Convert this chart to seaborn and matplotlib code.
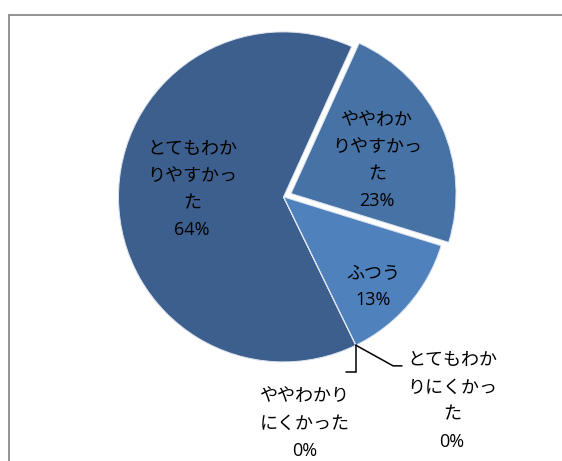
import numpy as np
import matplotlib
matplotlib.use("Agg")
import matplotlib.pyplot as plt
from matplotlib.lines import Line2D
import seaborn as sns

# Survey answers, in drawing order (clockwise)
categories = ["とてもわかりやすかった", "ややわかりやすかった", "ふつう",
              "ややわかりにくかった", "とてもわかりにくかった"]
percent = [64, 23, 13, 0, 0]
# Label text as wrapped inside the chart
label_lines = [["とてもわか", "りやすかっ", "た"],
               ["ややわか", "りやすかっ", "た"],
               ["ふつう"],
               ["ややわかり", "にくかった"],
               ["とてもわか", "りにくかっ", "た"]]

sns.set_theme(style="white")
plt.rcParams["font.family"] = ["Open Sans", "Noto Sans CJK JP", "DejaVu Sans"]

W, H, DPI = 562, 461, 100
fig = plt.figure(figsize=(W / DPI, H / DPI), dpi=DPI)
fig.patch.set_facecolor("white")

# Axes spanning the figure; 1 data unit = pie radius in pixels
R_PX = 165.0
CX, CY = 283.5, 196.9          # pie centre in pixels (from top-left)
ax = fig.add_axes([0, 0, 1, 1])
ax.axis("off")

colors = ["#3d5f8d", "#4672a6", "#4f81bd", "#4f81bd", "#4f81bd"]
explode = [0, 0.05, 0, 0, 0]

wedges, _ = ax.pie(percent, colors=colors, explode=explode, startangle=-64,
                   counterclock=False, radius=1.0, center=(0, 0),
                   wedgeprops=dict(edgecolor="#dbe3ee", linewidth=0.7),
                   normalize=True)
ax.set_aspect("auto")
ax.set_xlim(-CX / R_PX, (W - CX) / R_PX)
ax.set_ylim(-(H - CY) / R_PX, CY / R_PX)

# Label block centres in pie units
label_pos = [(-0.555, 0.045), (0.567, 0.22), (0.546, -0.545),
             (0.13, -1.373), (1.021, -1.237)]

for lines, val, (x, y) in zip(label_lines, percent, label_pos):
    ax.text(x, y, "\n".join(lines + [f"{val}%"]), ha="center", va="center",
            fontsize=13.0, color="black", linespacing=1.66)

# Leader lines for the zero-size slices, starting from their wedge angle
theta = np.deg2rad(wedges[3].theta1)
ex, ey = np.cos(theta), np.sin(theta)
ax.plot([ex, ex, 0.379], [ey, -1.064, -1.064], color="black", lw=1.1,
        solid_joinstyle="miter")
ax.plot([ex, 0.664, 0.718], [ey, -1.024, -1.024], color="black", lw=1.1,
        solid_joinstyle="miter")

# Chart area border (runs off the right and bottom edges)
fx0, fy0 = 8.5 / W, 1 - 15.5 / H
fig.add_artist(Line2D([fx0, fx0], [fy0, -0.01], transform=fig.transFigure,
                      color="#8a8a8a", lw=1.3))
fig.add_artist(Line2D([fx0, 1.01], [fy0, fy0], transform=fig.transFigure,
                      color="#8a8a8a", lw=1.3))

fig.savefig("out.png", dpi=DPI, facecolor="white")
